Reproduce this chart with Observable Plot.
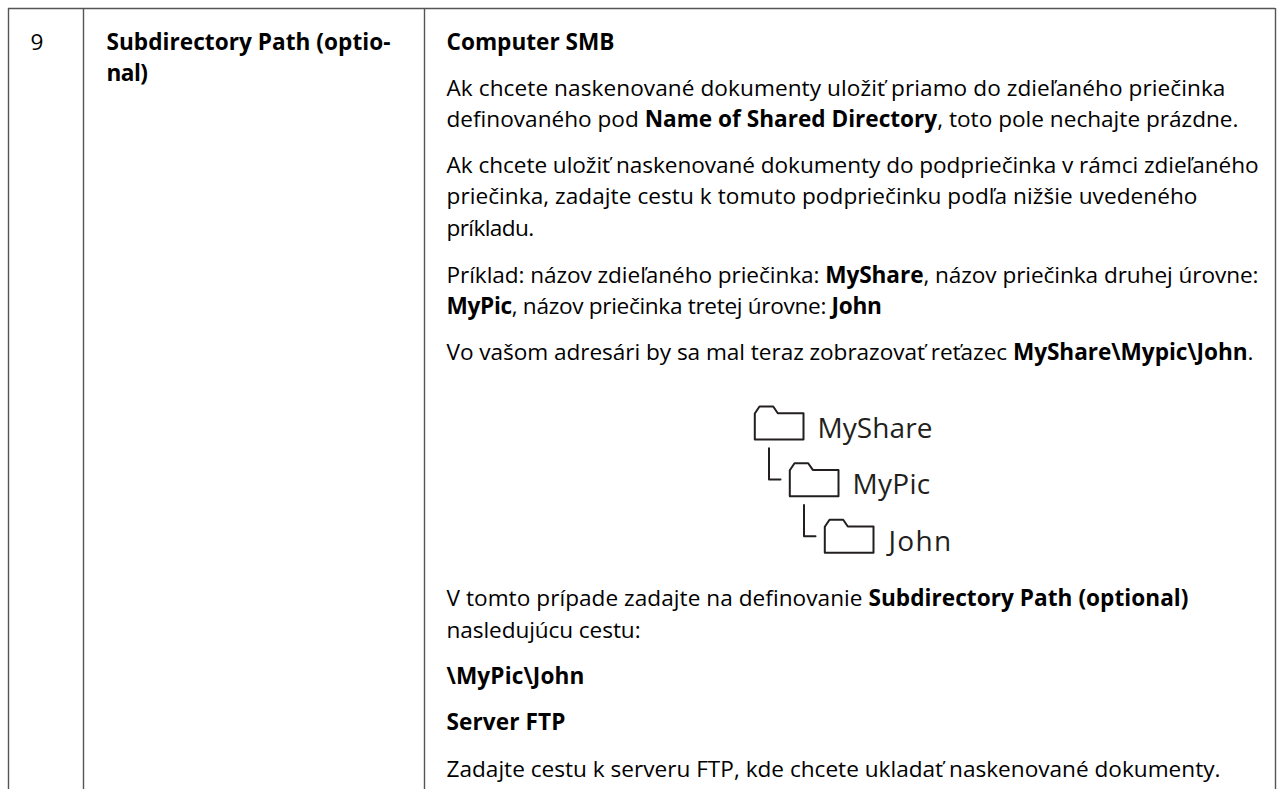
<!DOCTYPE html>
<html lang="sk">
<head>
<meta charset="utf-8">
<script src="https://cdn.jsdelivr.net/npm/d3@7"></script>
<script src="https://cdn.jsdelivr.net/npm/@observablehq/plot@0.6"></script>
<style>
html,body{margin:0;padding:0;background:#fff}
svg{display:block}
</style>
</head>
<body>
<div id="chart"></div>
<script>
// Table grid (document units are the reference pixels)
const gridColumns = [8, 83, 424, 1275];
const gridTop = 8;
const gridBottom = 789;

// Cell text, ** marks bold runs; Y = baseline, End = right edge of the line
const rowNumber = ["9"];
const rowNumberEnd = [42];
const rowLabelLines = ["**Subdirectory Path (optio-**", "**nal)**"];
const rowLabelY = [49, 80];
const rowLabelEnd = [390, 147];
const bodyLines = [
  "**Computer SMB**",
  "Ak chcete naskenované dokumenty uložiť priamo do zdieľaného priečinka",
  "definovaného pod **Name of Shared Directory**, toto pole nechajte prázdne.",
  "Ak chcete uložiť naskenované dokumenty do podpriečinka v rámci zdieľaného",
  "priečinka, zadajte cestu k tomuto podpriečinku podľa nižšie uvedeného",
  "príkladu.",
  "Príklad: názov zdieľaného priečinka: **MyShare**, názov priečinka druhej úrovne:",
  "**MyPic**, názov priečinka tretej úrovne: **John**",
  "Vo vašom adresári by sa mal teraz zobrazovať reťazec **MyShare\\Mypic\\John**.",
  "V tomto prípade zadajte na definovanie **Subdirectory Path (optional)**",
  "nasledujúcu cestu:",
  "**\\MyPic\\John**",
  "**Server FTP**",
  "Zadajte cestu k serveru FTP, kde chcete ukladať naskenované dokumenty."
];
const bodyY = [49, 95, 126, 172, 203, 235, 282, 313, 359, 605, 637, 683, 729, 776];
const bodyEnd = [614, 1225, 1238, 1258, 1197, 533, 1258, 881, 1253, 1188, 640, 584, 565, 1220];

// Folder tree
const folderNames = ["MyShare", "MyPic", "John"];
const folderNameX = [817, 852, 888];
const folderNameY = [437, 493, 550];
const folderNameEnd = [932, 930, 952];
const folderX = [0, 35, 70];
const folderY = [0, 56.7, 113.3];
const folderOutlineX = [754.3, 754.3, 759, 772.7, 777.3, 803, 803, 754.3];
const folderOutlineY = [439, 413, 406, 406, 412.7, 412.7, 439, 439];
const elbowX = [768.5, 768.5, 780];
const elbowY = [447.7, 479, 479];

const outline = folderNames.flatMap((name, i) =>
  folderOutlineX.map((x, j) => ({name, x: x + folderX[i], y: folderOutlineY[j] + folderY[i]})));
const elbows = folderNames.slice(0, 2).flatMap((name, i) =>
  elbowX.map((x, j) => ({name, x: x + folderX[i], y: elbowY[j] + folderY[i]})));
const textFont = "'Open Sans', sans-serif";
const textSize = 22.6;
const lineOffset = -0.32 * textSize;

const fitted = new Map();
[[rowNumber, [30], rowNumberEnd], [rowLabelLines, rowLabelLines.map(() => 106), rowLabelEnd],
 [bodyLines, bodyLines.map(() => 446), bodyEnd], [folderNames, folderNameX, folderNameEnd]]
  .forEach(([lines, starts, ends]) => lines.forEach((l, i) => fitted.set(l, ends[i] - starts[i])));

const plot = Plot.plot({
  width: 1277, height: 789,
  margin: 0,
  x: {type: "linear", domain: [0, 1277], range: [0, 1277], axis: null},
  y: {type: "linear", domain: [0, 789], range: [0, 789], axis: null},
  style: {background: "#fff", fontFamily: textFont},
  marks: [
    Plot.ruleX(gridColumns, {x: d => d, y1: gridTop, y2: gridBottom, stroke: "#555", strokeWidth: 1.4}),
    Plot.ruleY([gridTop], {x1: gridColumns[0], x2: gridColumns[3], stroke: "#555", strokeWidth: 1.4}),
    Plot.text(rowNumber, {x: 30, y: 49, dy: lineOffset, text: d => d, textAnchor: "start", fontSize: textSize, fill: "#000"}),
    Plot.text(rowLabelLines, {x: 106, y: (d, i) => rowLabelY[i], dy: lineOffset, text: d => d, textAnchor: "start", fontSize: textSize, fill: "#000"}),
    Plot.text(bodyLines, {x: 446, y: (d, i) => bodyY[i], dy: lineOffset, text: d => d, textAnchor: "start", fontSize: textSize, fill: "#000"}),
    Plot.line(outline, {x: "x", y: "y", z: "name", stroke: "#231f20", strokeWidth: 2, curve: "linear"}),
    Plot.line(elbows, {x: "x", y: "y", z: "name", stroke: "#231f20", strokeWidth: 2, curve: "linear"}),
    Plot.text(folderNames, {x: (d, i) => folderNameX[i], y: (d, i) => folderNameY[i], dy: -0.32 * 28, text: d => d, textAnchor: "start", fontSize: 28, fill: "#231f20"})
  ]
});
document.getElementById("chart").append(plot);

// Turn **bold** runs into real bold tspans, then fit each line to its width
d3.select(plot).selectAll("text").each(function () {
  const raw = this.textContent;
  const target = fitted.get(raw);
  if (raw.includes("**")) {
    this.textContent = "";
    raw.split("**").forEach((part, i) => {
      if (!part) return;
      const t = d3.select(this).append("tspan").text(part);
      if (i % 2) t.attr("font-weight", 700);
    });
  }
  if (target) {
    const chars = this.getNumberOfChars();
    this.style.letterSpacing = `${(target - this.getComputedTextLength()) / chars}px`;
  }
});
</script>
</body>
</html>
